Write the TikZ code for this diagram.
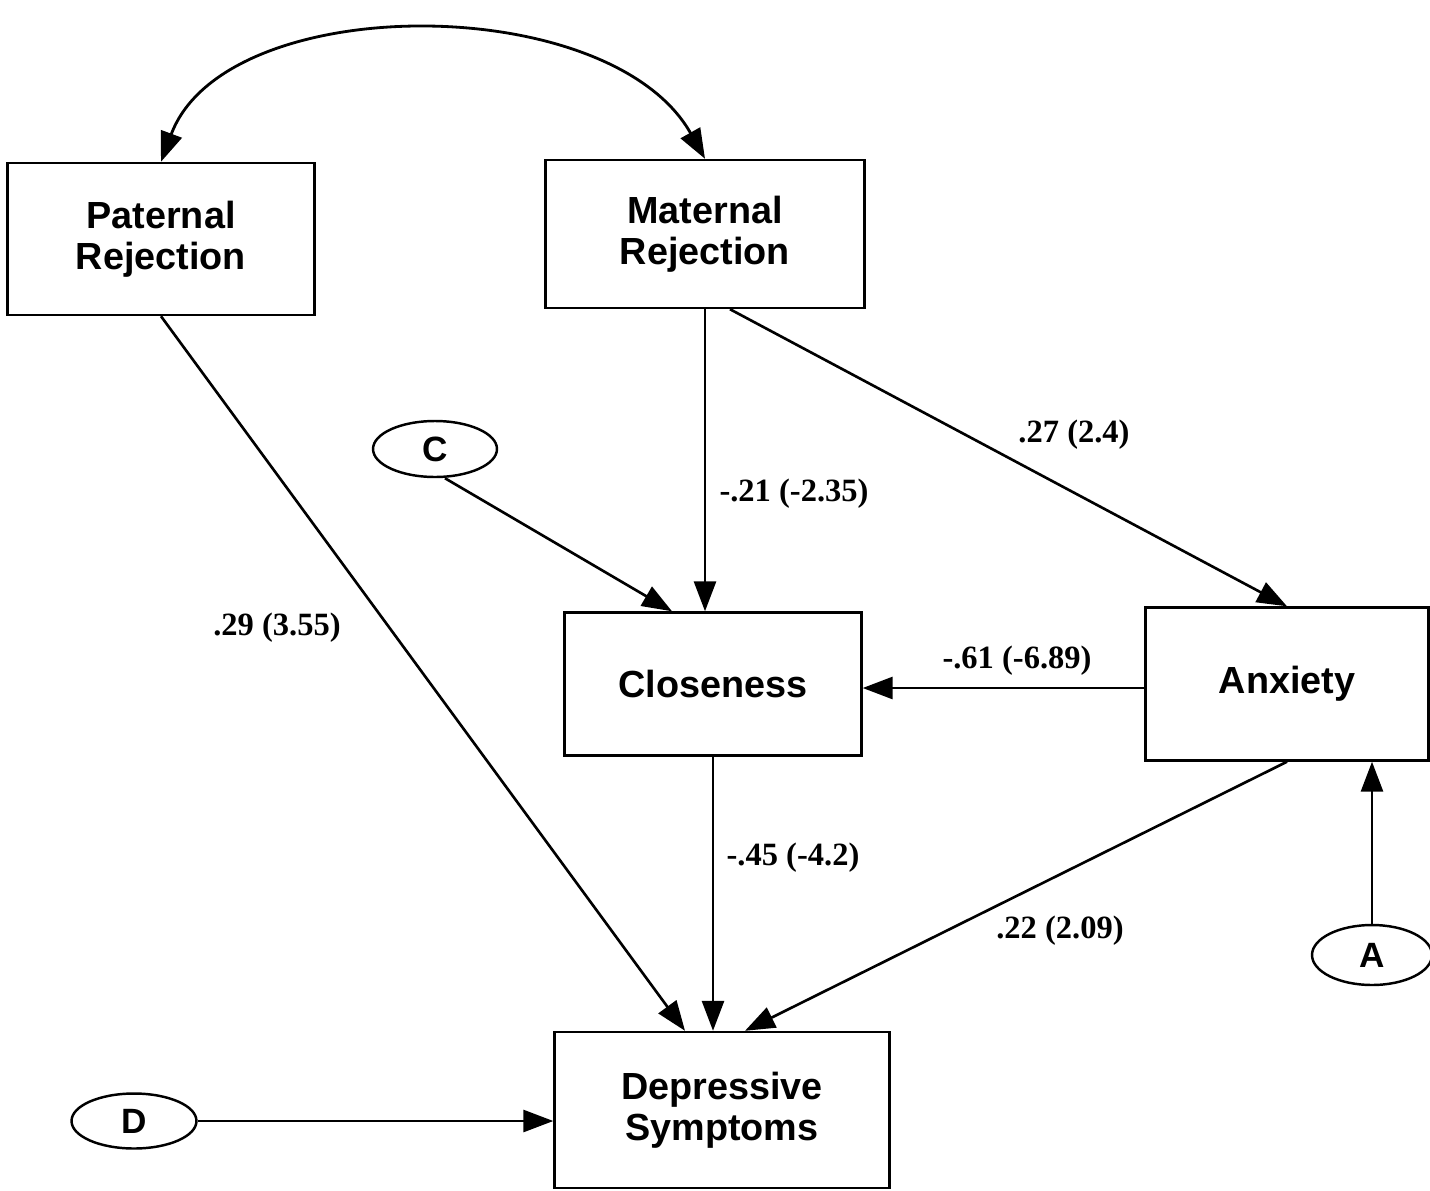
\documentclass[tikz,border=0pt]{standalone}
\usepackage{fontspec}
\setmainfont{Liberation Serif}
\setsansfont{Liberation Sans}
\usepackage{tikz}
\usetikzlibrary{arrows.meta,calc,positioning,shapes.geometric}

\begin{document}
\begin{tikzpicture}[x=0.02cm,y=-0.02cm,
  >={Triangle[length=17pt,width=12.5pt]},
  box/.style={draw,line width=1.4pt,align=center,inner sep=0pt,font=\sffamily\bfseries\fontsize{21.5}{23.5}\selectfont},
  lat/.style={draw,ellipse,line width=1.4pt,inner sep=0pt,font=\sffamily\bfseries\fontsize{20}{22}\selectfont},
  lbl/.style={inner sep=0pt,font=\bfseries\fontsize{18.5}{20}\selectfont},
  arr/.style={->,line width=1.5pt}]
  \useasboundingbox (0,0) rectangle (1430,1190);
  \node[box,minimum width=6.14cm,minimum height=3.04cm] (pat) at (161,239) {Paternal\\Rejection};
  \node[box,minimum width=6.38cm,minimum height=2.96cm] (mat) at (705,234) {Maternal\\Rejection};
  \node[box,minimum width=5.94cm,minimum height=2.86cm] (clo) at (713,684) {Closeness};
  \node[box,minimum width=5.66cm,minimum height=3.06cm] (anx) at (1287,684) {Anxiety};
  \node[box,minimum width=6.7cm,minimum height=3.12cm] (dep) at (722,1110) {Depressive\\Symptoms};
  \node[lat,minimum width=2.48cm,minimum height=1.12cm] (eC) at (435,449) {C};
  \node[lat,minimum width=2.4cm,minimum height=1.2cm] (eA) at (1372,955) {A};
  \node[lat,minimum width=2.5cm,minimum height=1.1cm] (eD) at (134,1121) {D};
  % correlation between the two parents
  \draw[<->,line width=1.6pt] (pat.north) .. controls (225,-10) and (610,-10) .. (mat.north);
  % paths
  \draw[arr] (pat.south) -- ($(dep.north)+(-37,0)$);
  \draw[arr] (mat.south) -- (mat.south |- clo.north);
  \draw[arr] ($(mat.south)+(25,0)$) -- (anx.north);
  \draw[arr] ($(eC.south)+(10,0)$) -- ($(clo.north)+(-41,0)$);
  \draw[arr] ($(anx.west)+(0,4)$) -- ($(clo.east)+(0,4)$);
  \draw[arr] (clo.south) -- (clo.south |- dep.north);
  \draw[arr] (anx.south) -- ($(dep.north)+(23,0)$);
  \draw[arr] (eA.north) -- (eA.north |- anx.south);
  \draw[arr] (eD.east) -- (eD.east -| dep.west);
  % estimates (t values)
  \node[lbl] (l1) at (277,628) {.29 (3.55)};
  \node[lbl] (l2) at (794,494) {-.21 (-2.35)};
  \node[lbl] (l3) at (1074,435) {.27 (2.4)};
  \node[lbl] (l4) at (1017,661) {-.61 (-6.89)};
  \node[lbl] (l5) at (793,858) {-.45 (-4.2)};
  \node[lbl] (l6) at (1060,931) {.22 (2.09)};
\end{tikzpicture}
\end{document}
